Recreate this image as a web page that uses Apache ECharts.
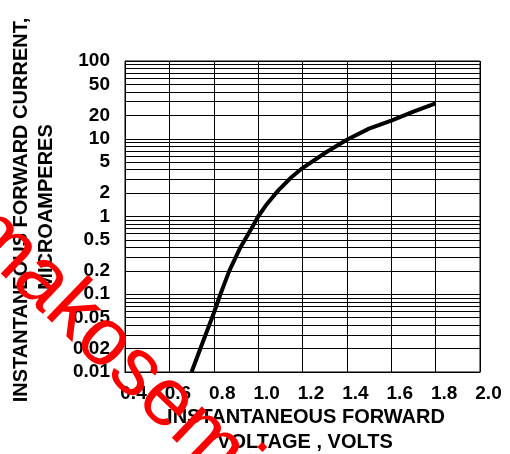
<!DOCTYPE html>
<html>
<head>
<meta charset="utf-8">
<script src="https://cdn.jsdelivr.net/npm/echarts@6/dist/echarts.min.js"></script>
<style>
html,body{margin:0;padding:0;background:#fff;}
#chart{width:510px;height:454px;}
</style>
</head>
<body>
<div id="chart"></div>
<script>
// Data
const voltage = [0.70, 0.75, 0.80, 0.83, 0.87, 0.92, 0.97, 1.00, 1.04, 1.09, 1.15, 1.20, 1.31, 1.40, 1.50, 1.60, 1.70, 1.80];
const current = [0.01, 0.024, 0.057, 0.10, 0.20, 0.40, 0.70, 1.0, 1.45, 2.15, 3.2, 4.2, 6.8, 9.7, 13.5, 17.1, 22.3, 28.5];

// Axis ticks / labels
const xTickLabels = ['0.4', '0.6', '0.8', '1.0', '1.2', '1.4', '1.6', '1.8', '2.0'];
const yDecades = [0.01, 0.1, 1, 10];
const yMinorMultipliers = [2, 3, 4, 5, 6, 7, 8, 9];
const yExtraLabels = [0.02, 0.05, 0.2, 0.5, 2, 5, 20, 50];

const FONT = "'Liberation Sans', Arial, sans-serif";

const minorLines = [];
yDecades.forEach(d => {
  yMinorMultipliers.forEach(m => {
    const v = Number((d * m).toPrecision(3));
    const labelled = yExtraLabels.some(l => Math.abs(l - v) < 1e-9);
    minorLines.push({
      yAxis: v,
      label: {
        show: labelled,
        position: 'start',
        distance: 15,
        formatter: String(v),
        color: '#000',
        fontSize: 19,
        fontWeight: 'bold',
        fontFamily: FONT
      }
    });
  });
});

const chart = echarts.init(document.getElementById('chart'), null, {renderer: 'canvas'});
chart.setOption({
  animation: false,
  backgroundColor: '#fff',
  grid: {left: 125, right: 30, top: 61, bottom: 82, show: true, borderColor: '#000', borderWidth: 1, backgroundColor: 'transparent'},
  xAxis: {
    type: 'value', min: 0.4, max: 2.0, interval: 0.2,
    axisLine: {show: true, lineStyle: {color: '#000', width: 1}},
    axisTick: {show: false},
    splitLine: {show: true, lineStyle: {color: '#000', width: 1}},
    axisLabel: {
      color: '#000', fontSize: 19, fontWeight: 'bold', fontFamily: FONT,
      margin: 12, padding: [0, 0, 0, 17],
      formatter: (v) => xTickLabels[Math.round((v - 0.4) / 0.2)] || ''
    }
  },
  yAxis: {
    type: 'log', logBase: 10, min: 0.01, max: 100,
    axisLine: {show: true, lineStyle: {color: '#000', width: 1}},
    axisTick: {show: false},
    splitLine: {show: true, lineStyle: {color: '#000', width: 1}},
    axisLabel: {
      color: '#000', fontSize: 19, fontWeight: 'bold', fontFamily: FONT, margin: 15,
      formatter: (v) => String(Number(v.toPrecision(2)))
    }
  },
  series: [
    {
      type: 'line', data: [], silent: true,
      markLine: {
        silent: true, symbol: 'none', animation: false,
        lineStyle: {color: '#000', width: 1, type: 'solid'},
        data: minorLines
      }
    },
    {
      type: 'line',
      data: voltage.map((v, i) => [v, current[i]]),
      showSymbol: false, symbol: 'none', smooth: false,
      lineStyle: {color: '#000', width: 4, join: 'round', cap: 'butt'},
      z: 5
    }
  ],
  graphic: [
    {type: 'text', x: 21, y: 210, rotation: Math.PI / 2,
     style: {text: 'INSTANTANEOUS FORWARD CURRENT,', font: "bold 20px " + FONT, fill: '#000', textAlign: 'center', textVerticalAlign: 'middle'}},
    {type: 'text', x: 46, y: 207, rotation: Math.PI / 2,
     style: {text: 'MICROAMPERES', font: "bold 20px " + FONT, fill: '#000', textAlign: 'center', textVerticalAlign: 'middle'}},
    {type: 'text', x: 306, y: 417,
     style: {text: 'INSTANTANEOUS FORWARD', font: "bold 20px " + FONT, fill: '#000', textAlign: 'center', textVerticalAlign: 'middle'}},
    {type: 'text', x: 305, y: 442,
     style: {text: 'VOLTAGE , VOLTS', font: "bold 20px " + FONT, fill: '#000', textAlign: 'center', textVerticalAlign: 'middle'}},
    {type: 'text', x: 111, y: 348, rotation: -0.765, z: 100,
     style: {text: 'makosemi', font: "82px " + FONT, fill: '#ff0000', textAlign: 'center', textVerticalAlign: 'middle'}}
  ]
});
</script>
</body>
</html>
